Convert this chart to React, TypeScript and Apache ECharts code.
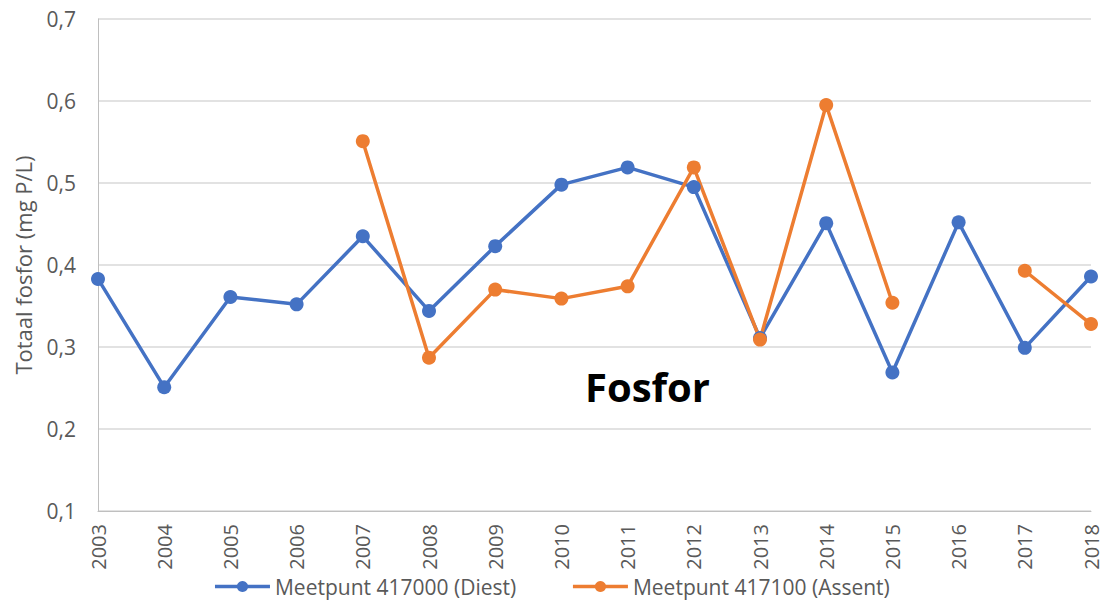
import React, { useEffect, useRef } from "react";
import * as echarts from "echarts";

const years = ["2003","2004","2005","2006","2007","2008","2009","2010","2011","2012","2013","2014","2015","2016","2017","2018"];
const diest = [0.383, 0.251, 0.361, 0.352, 0.435, 0.344, 0.423, 0.498, 0.519, 0.495, 0.311, 0.451, 0.269, 0.452, 0.299, 0.386];
const assent = [null, null, null, null, 0.551, 0.287, 0.370, 0.359, 0.374, 0.519, 0.309, 0.595, 0.354, null, 0.393, 0.328];
const seriesNames = ["Meetpunt 417000 (Diest)", "Meetpunt 417100 (Assent)"];
const yAxisName = "Totaal fosfor (mg P/L)";
const chartTitle = "Fosfor";

const FONT = "'Open Sans', sans-serif";

export default function App() {
  const ref = useRef<HTMLDivElement>(null);
  useEffect(() => {
    if (!ref.current) return;
    const chart = echarts.init(ref.current, undefined, { renderer: "svg" });
    chart.setOption({
      animation: false,
      backgroundColor: "#ffffff",
      textStyle: { fontFamily: FONT },
      title: {
        text: chartTitle,
        left: 580,
        top: 361,
        textStyle: { fontFamily: FONT, fontSize: 40, fontWeight: "bold", color: "#000000" },
      },
      grid: { left: 98, right: 12, top: 19, bottom: 91, containLabel: false },
      legend: {
        bottom: 0,
        left: "center",
        itemWidth: 55,
        itemHeight: 14,
        itemGap: 55,
        lineStyle: { width: 3.5 },
        textStyle: { fontFamily: FONT, fontSize: 21, color: "#595959" },
        data: seriesNames,
      },
      xAxis: {
        type: "category",
        data: years,
        boundaryGap: false,
        axisLine: { show: true, lineStyle: { color: "#bfbfbf", width: 1 } },
        axisTick: { show: false },
        axisLabel: { rotate: 90, fontSize: 20, color: "#595959", margin: 13, fontFamily: FONT, interval: 0 },
        splitLine: { show: false },
      },
      yAxis: {
        type: "value",
        min: 0.1,
        max: 0.7,
        interval: 0.1,
        name: yAxisName,
        nameLocation: "middle",
        nameGap: 64,
        nameTextStyle: { fontSize: 22, color: "#595959", fontFamily: FONT },
        axisLine: { show: true, lineStyle: { color: "#bfbfbf", width: 1 } },
        axisTick: { show: false },
        axisLabel: {
          fontSize: 21,
          color: "#595959",
          margin: 22,
          fontFamily: FONT,
          formatter: (v: number) => v.toFixed(1).replace(".", ","),
        },
        splitLine: { show: true, lineStyle: { color: "#d9d9d9", width: 1.5 } },
      },
      series: [
        {
          name: seriesNames[0],
          type: "line",
          data: diest,
          symbol: "circle",
          symbolSize: 14,
          itemStyle: { color: "#4472C4" },
          lineStyle: { color: "#4472C4", width: 3.5 },
        },
        {
          name: seriesNames[1],
          type: "line",
          data: assent,
          symbol: "circle",
          symbolSize: 14,
          connectNulls: false,
          itemStyle: { color: "#ED7D31" },
          lineStyle: { color: "#ED7D31", width: 3.5 },
        },
      ],
    });
    return () => chart.dispose();
  }, []);
  return (
    <div
      ref={ref}
      style={{ position: "fixed", left: 0, top: 0, width: 1103, height: 602, background: "#fff" }}
    />
  );
}
